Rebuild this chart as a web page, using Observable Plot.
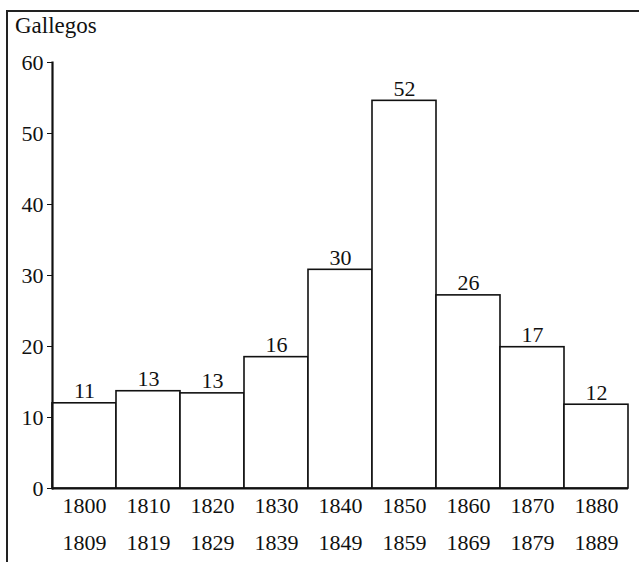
<!DOCTYPE html>
<html><head><meta charset="utf-8">
<script src="https://cdn.jsdelivr.net/npm/d3@7"></script>
<script src="https://cdn.jsdelivr.net/npm/@observablehq/plot@0.6"></script>
<style>
body{margin:0;background:#fff;}
#wrap{position:relative;width:639px;height:562px;overflow:hidden;background:#fff;}
#frame{position:absolute;left:6px;top:10px;width:700px;height:600px;border-top:2px solid #222;border-left:2px solid #222;}
#title{position:absolute;left:15px;top:12px;font-size:23px;color:#111;line-height:1.2;}
#chart{position:absolute;left:0;top:0;}
</style></head><body>
<div id="wrap"><div id="frame"></div><div id="chart"></div><div id="title">Gallegos</div></div>
<script>
const decadeStart = [1800, 1810, 1820, 1830, 1840, 1850, 1860, 1870, 1880];
const decadeEnd = [1809, 1819, 1829, 1839, 1849, 1859, 1869, 1879, 1889];
const counts = [11, 13, 13, 16, 30, 52, 26, 17, 12];
const barHeights = [12.0, 13.7, 13.4, 18.5, 30.8, 54.6, 27.2, 19.9, 11.8];
const yTicks = [0, 10, 20, 30, 40, 50, 60];

const data = decadeStart.map((s, i) => ({
  decade: String(s), start: String(s), end: String(decadeEnd[i]),
  count: counts[i], height: barHeights[i]
}));

const fontName = ["Liberation", "Serif"].join(" ");
const serif = `"${fontName}", monospace`;
document.getElementById("title").style.fontFamily = serif;
const chart = Plot.plot({
  width: 639, height: 562,
  marginLeft: 52, marginRight: 11, marginTop: 62, marginBottom: 74,
  style: {fontSize: "22px", color: "#111", background: "transparent", overflow: "visible"},
  x: {domain: decadeStart.map(String), padding: 0, axis: null},
  y: {domain: [0, 60], axis: null},
  marks: [
    Plot.barY(data, {x: "decade", y: "height", fill: "white", stroke: "#111", strokeWidth: 1.6}),
    Plot.ruleY([0], {strokeWidth: 2.2, stroke: "#111"}),
    Plot.frame({anchor: "left", strokeWidth: 2.2, stroke: "#111"}),
    Plot.axisY(yTicks, {anchor: "left", tickSize: 5, tickPadding: 4, fontSize: 22, label: null, tickFormat: d => String(d), stroke: "#111"}),
    Plot.text(data, {x: "decade", y: "height", text: "count", lineAnchor: "bottom", dy: -5, fontSize: 22, fill: "#111"}),
    Plot.text(data, {x: "decade", y: () => 0, text: "start", lineAnchor: "middle", dy: 17, fontSize: 22, fill: "#111"}),
    Plot.text(data, {x: "decade", y: () => 0, text: "end", lineAnchor: "middle", dy: 54, fontSize: 22, fill: "#111"})
  ]
});
chart.style.fontFamily = serif;
chart.querySelectorAll("text, g").forEach(el => { el.style.fontFamily = serif; });
document.getElementById("chart").appendChild(chart);
</script>
</body></html>
